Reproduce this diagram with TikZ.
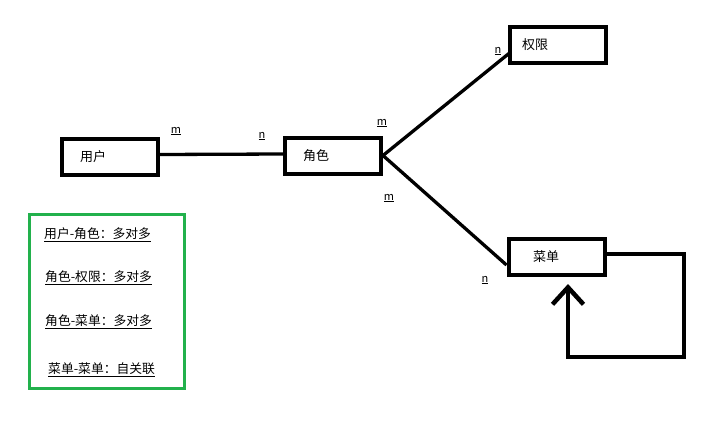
\documentclass[tikz,border=0pt]{standalone}
\usepackage{fontspec}
\setmainfont{Noto Sans CJK SC}
\usetikzlibrary{arrows.meta}
\definecolor{legendgreen}{RGB}{34,177,76}
\tikzset{
  entity_n/.style = {draw=black, line width=4pt, minimum width=96pt,
    minimum height=36pt, inner sep=0pt, align=left, text width=#1,
    font=\fontsize{13}{15}\selectfont},% 实体
  entity_n/.default = 60pt,
  card_n/.style = {inner sep=0pt, font=\fontsize{11}{13}\selectfont},% m / n
  frame_n/.style = {draw=legendgreen, line width=3pt, minimum width=155pt,
    minimum height=174pt, inner sep=0pt},% 图例框
  note_n/.style = {inner sep=0pt, anchor=west,
    font=\fontsize{12.8}{15}\selectfont},% 图例文字
  rel_e/.style = {line width=3.3pt},% 关系连线
  loop_e/.style = {line width=4.5pt, -{Straight Barb[length=17pt,width=31pt]}},% 自关联
}

\begin{document}
\begin{tikzpicture}[x=1pt,y=-1pt]
\useasboundingbox (0,0) rectangle (720,423);

% 实体
\node [entity_n] (user) at (110,156.5) {用户};
\node [entity_n] (role) at (333,155.5) {角色};
\node [entity_n=71pt] (perm) at (557.5,45) {权限};
\node [entity_n=47pt] (menu) at (556.5,257) {菜单};

% 连线
\draw [rel_e] ([yshift=2pt]user.east) -- ([yshift=1.5pt]role.west);
\draw [rel_e] (role.east) -- ([xshift=2pt,yshift=-8pt]perm.west);
\draw [rel_e] (role.east) -- ([yshift=-8pt]menu.west);

\coordinate (loop_br) at (684,357);
\coordinate (loop_bl) at (568,357);
\draw [loop_e] ([yshift=3pt]menu.east) -| (loop_br) -- (loop_bl)
	-- ([xshift=11.5pt,yshift=-7pt]menu.south);

% 基数
\node [card_n] (c_um) at (176,131) {\underline{m}};
\node [card_n] (c_rn) at (262,136) {\underline{n}};
\node [card_n] (c_rm) at (382,123) {\underline{m}};
\node [card_n] (c_pn) at (498,51) {\underline{n}};
\node [card_n] (c_mm) at (389,198) {\underline{m}};
\node [card_n] (c_mn) at (485,280) {\underline{n}};

% 图例
\node [frame_n] (legend) at (106.5,301.5) {};
\node [note_n] (l_ur) at (44,235) {\underline{用户-角色：多对多}};
\node [note_n] (l_rp) at (45,278) {\underline{角色-权限：多对多}};
\node [note_n] (l_rm) at (45,322) {\underline{角色-菜单：多对多}};
\node [note_n] (l_mm) at (48,370) {\underline{菜单-菜单：自关联}};

\end{tikzpicture}
\end{document}
